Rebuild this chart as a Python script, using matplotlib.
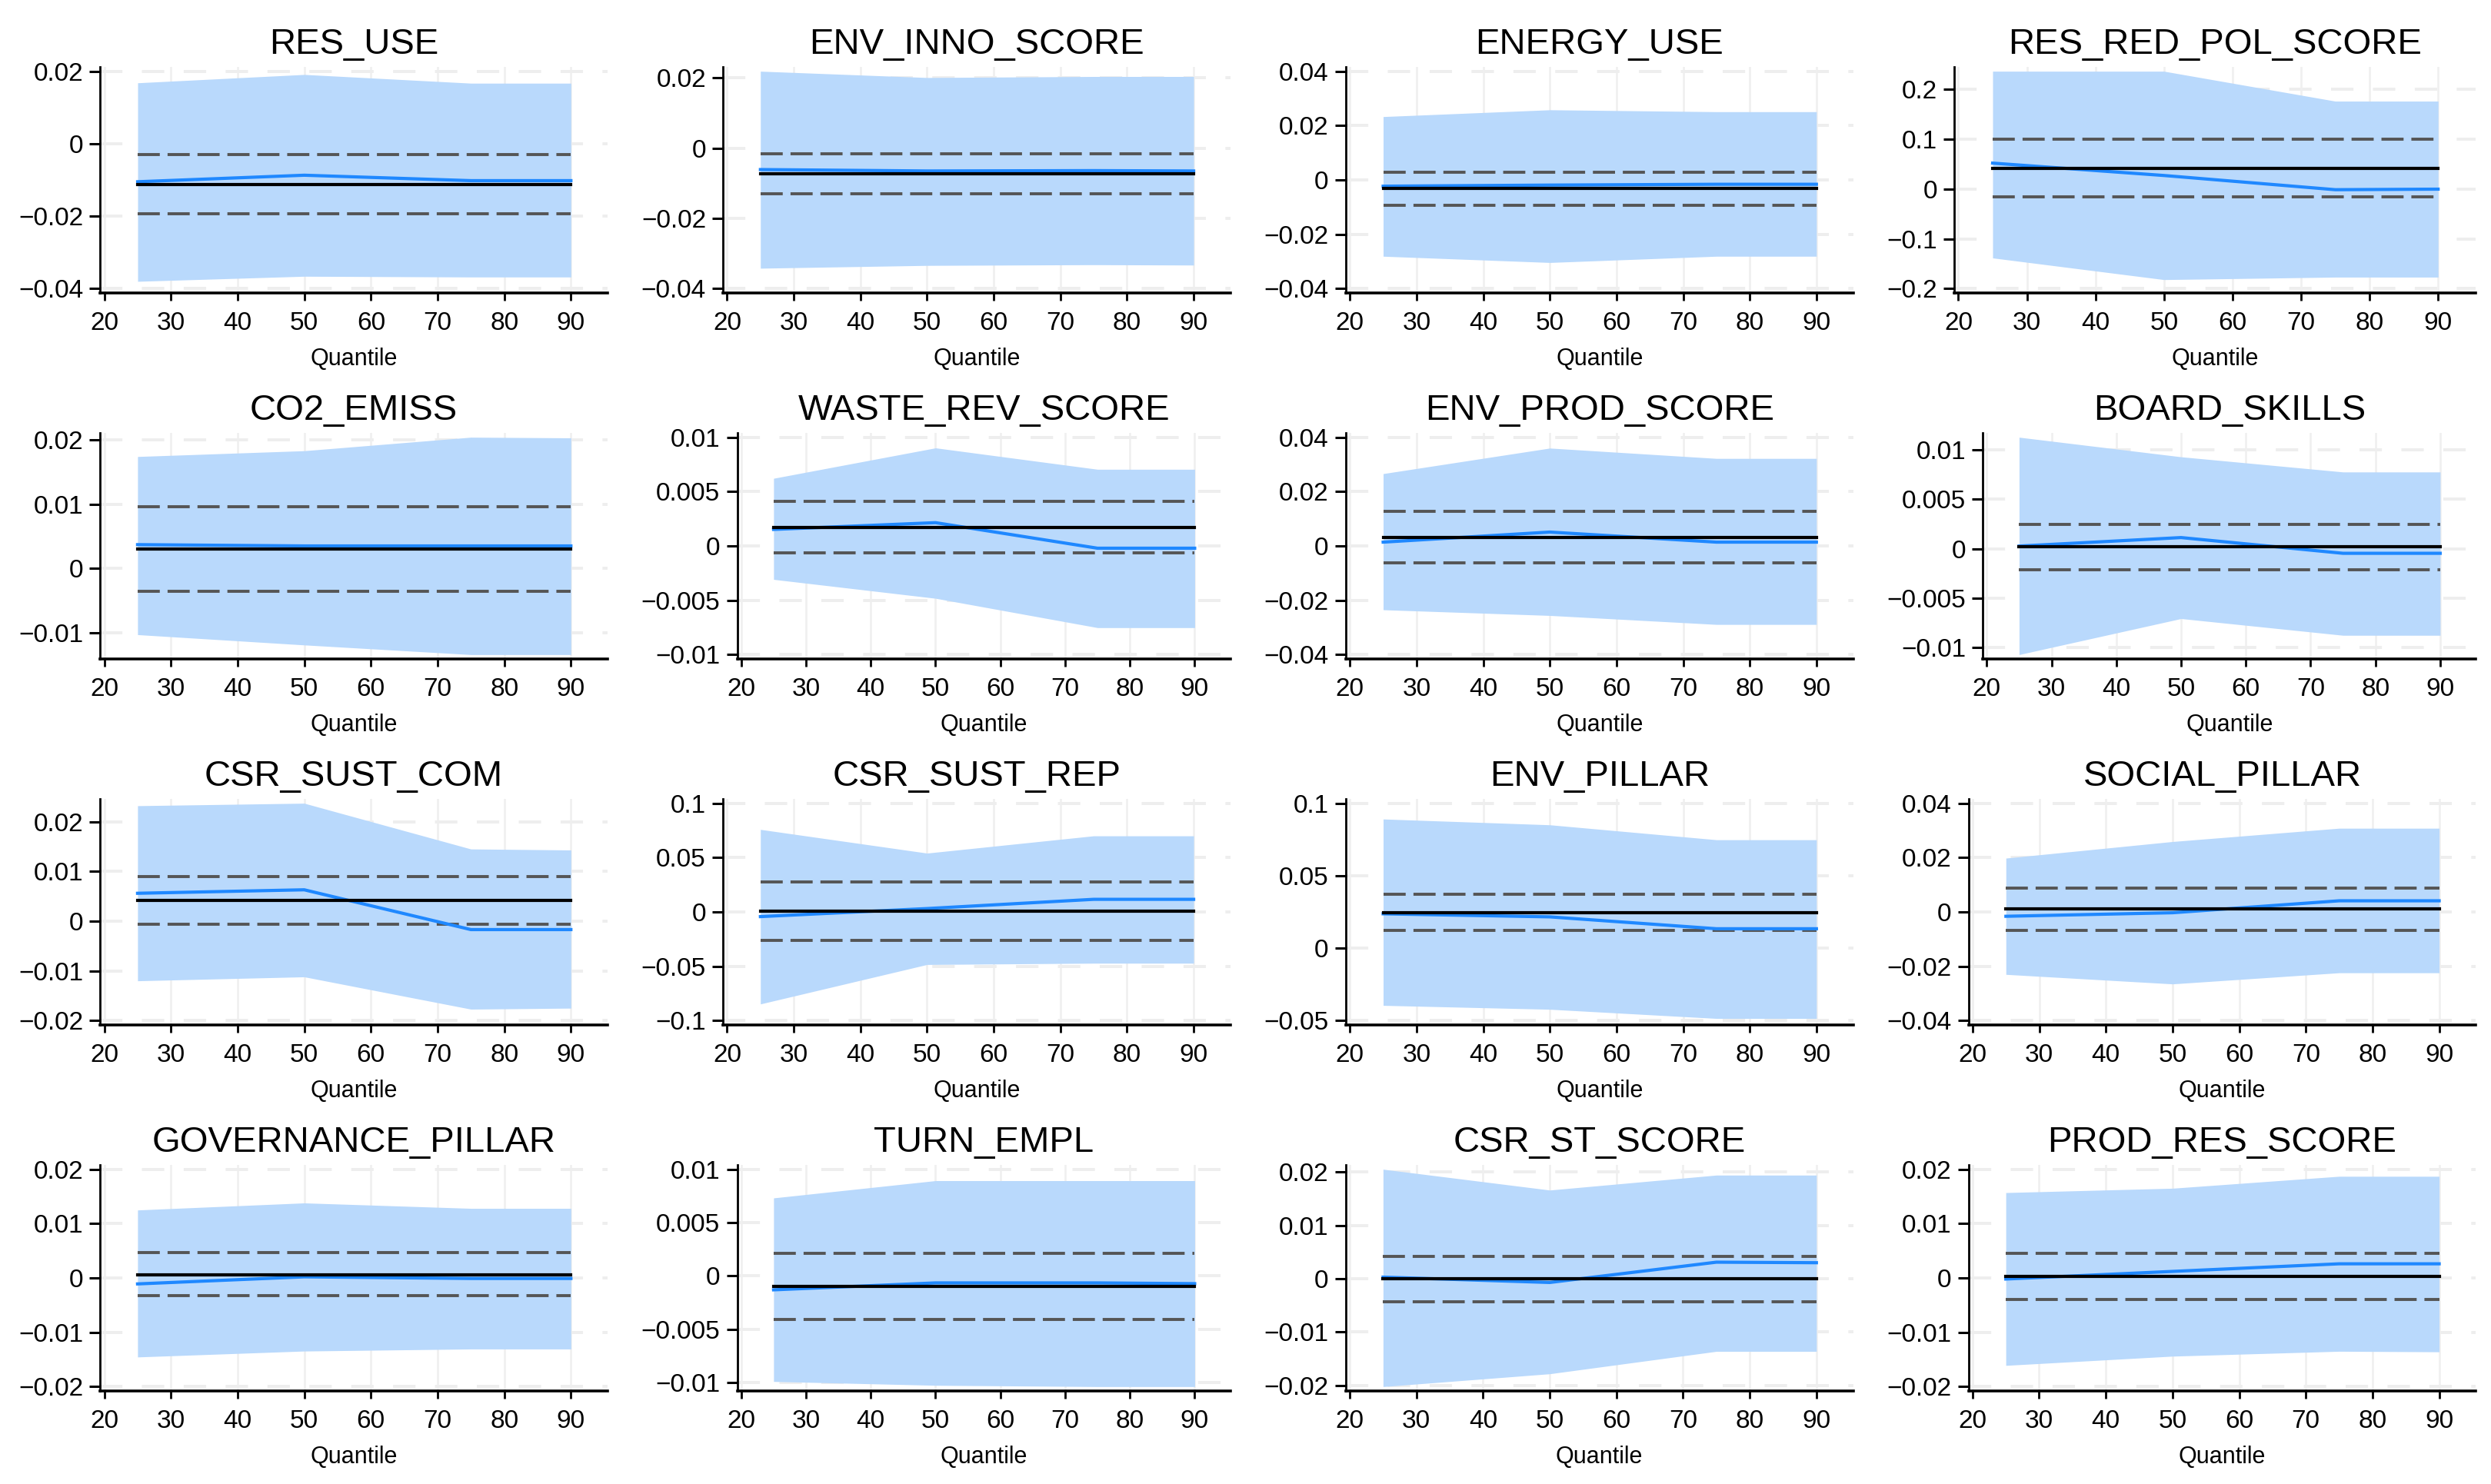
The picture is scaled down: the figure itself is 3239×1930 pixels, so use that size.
import matplotlib.pyplot as plt
from matplotlib.ticker import FuncFormatter

plt.rcParams['font.family'] = ['Liberation Sans', 'DejaVu Sans']

quantiles = [25, 50, 75, 90]

names = ['RES_USE', 'ENV_INNO_SCORE', 'ENERGY_USE', 'RES_RED_POL_SCORE',
         'CO2_EMISS', 'WASTE_REV_SCORE', 'ENV_PROD_SCORE', 'BOARD_SKILLS',
         'CSR_SUST_COM', 'CSR_SUST_REP', 'ENV_PILLAR', 'SOCIAL_PILLAR',
         'GOVERNANCE_PILLAR', 'TURN_EMPL', 'CSR_ST_SCORE', 'PROD_RES_SCORE']

# quantile regression coefficients
qr_coef = [
    [-0.0105, -0.0087, -0.0102, -0.0102],
    [-0.0061, -0.0065, -0.0064, -0.0065],
    [-0.0023, -0.0019, -0.0016, -0.0016],
    [0.0517, 0.0269, -0.0016, -0.0005],
    [0.0037, 0.0035, 0.0035, 0.0035],
    [0.00152, 0.00214, -0.00021, -0.00021],
    [0.0014, 0.0051, 0.0014, 0.0014],
    [0.00026, 0.00112, -0.00047, -0.00047],
    [0.0056, 0.0063, -0.0017, -0.0017],
    [-0.0043, 0.0031, 0.0116, 0.0116],
    [0.0237, 0.0216, 0.0134, 0.0134],
    [-0.0016, -0.0003, 0.0041, 0.0041],
    [-0.0011, 0.0002, -0.0001, -0.0001],
    [-0.0013, -0.00065, -0.00065, -0.00072],
    [0.0003, -0.0007, 0.0031, 0.0030],
    [-0.0002, 0.0012, 0.0026, 0.0026],
]

ci_low = [
    [-0.0380, -0.0366, -0.0368, -0.0368],
    [-0.0342, -0.0334, -0.0332, -0.0333],
    [-0.0281, -0.0304, -0.0281, -0.0281],
    [-0.1385, -0.182, -0.177, -0.177],
    [-0.0103, -0.0119, -0.0134, -0.0134],
    [-0.00308, -0.00482, -0.00752, -0.00752],
    [-0.0235, -0.0256, -0.0289, -0.0289],
    [-0.01071, -0.00707, -0.00876, -0.00876],
    [-0.0120, -0.0112, -0.0177, -0.0175],
    [-0.0847, -0.0484, -0.0472, -0.0472],
    [-0.0395, -0.0422, -0.0485, -0.0485],
    [-0.0230, -0.0265, -0.0224, -0.0224],
    [-0.01455, -0.01346, -0.01308, -0.01308],
    [-0.00989, -0.01025, -0.01037, -0.01037],
    [-0.0202, -0.0178, -0.0136, -0.0136],
    [-0.0161, -0.0144, -0.0135, -0.0136],
]

ci_high = [
    [0.0168, 0.0191, 0.0167, 0.0167],
    [0.0219, 0.0201, 0.0204, 0.0204],
    [0.0233, 0.0258, 0.0251, 0.0251],
    [0.236, 0.236, 0.176, 0.176],
    [0.0174, 0.0183, 0.0204, 0.0203],
    [0.00622, 0.00902, 0.00705, 0.00705],
    [0.0266, 0.0360, 0.0322, 0.0322],
    [0.01126, 0.00928, 0.00775, 0.00775],
    [0.0232, 0.0237, 0.0145, 0.0143],
    [0.0759, 0.0541, 0.0700, 0.0700],
    [0.0891, 0.0851, 0.0748, 0.0748],
    [0.0198, 0.0259, 0.0308, 0.0308],
    [0.0125, 0.0138, 0.0128, 0.0128],
    [0.00731, 0.00893, 0.00893, 0.00893],
    [0.0205, 0.0166, 0.0194, 0.0194],
    [0.0157, 0.0165, 0.0187, 0.0187],
]

# OLS coefficient and its confidence bounds
ols_coef = [-0.0112, -0.0074, -0.0030, 0.0413, 0.0030, 0.00173, 0.0031, 0.00021,
            0.0042, 0.0009, 0.0244, 0.0010, 0.0006, -0.00097, 0.0, 0.0003]
ols_low = [-0.0193, -0.0131, -0.0093, -0.016, -0.0036, -0.00064, -0.0062, -0.00213,
           -0.0006, -0.0263, 0.0123, -0.0067, -0.0033, -0.00408, -0.0043, -0.0040]
ols_high = [-0.0029, -0.0015, 0.0029, 0.0992, 0.0096, 0.00413, 0.0126, 0.00244,
            0.0090, 0.0273, 0.0372, 0.0089, 0.0046, 0.00212, 0.0042, 0.0045]

yticks = [
    [-0.04, -0.02, 0, 0.02],
    [-0.04, -0.02, 0, 0.02],
    [-0.04, -0.02, 0, 0.02, 0.04],
    [-0.2, -0.1, 0, 0.1, 0.2],
    [-0.01, 0, 0.01, 0.02],
    [-0.01, -0.005, 0, 0.005, 0.01],
    [-0.04, -0.02, 0, 0.02, 0.04],
    [-0.01, -0.005, 0, 0.005, 0.01],
    [-0.02, -0.01, 0, 0.01, 0.02],
    [-0.1, -0.05, 0, 0.05, 0.1],
    [-0.05, 0, 0.05, 0.1],
    [-0.04, -0.02, 0, 0.02, 0.04],
    [-0.02, -0.01, 0, 0.01, 0.02],
    [-0.01, -0.005, 0, 0.005, 0.01],
    [-0.02, -0.01, 0, 0.01, 0.02],
    [-0.02, -0.01, 0, 0.01, 0.02],
]
xticks = [20, 30, 40, 50, 60, 70, 80, 90]

W, H = 3239, 1930
fig = plt.figure(figsize=(W / 200, H / 200), dpi=200)

fill_color = '#b9d9fc'
blue = '#1f88ff'
grid_color = '#eeeeee'


def stata_fmt(v, pos):
    return ('%g' % round(v, 6)).replace('-', '\u2212')


axes = []
for i, name in enumerate(names):
    r, c = divmod(i, 4)
    col_x = c * W / 4
    top = 87 + r * 476
    ax = fig.add_axes([(col_x + 130) / W, 1 - (top + 294) / H, 660 / W, 294 / H])
    axes.append(ax)

    for t in yticks[i]:
        ax.axhline(t, color=grid_color, lw=1.4, ls=(0, (7.5, 6.5)), zorder=0)
    for t in xticks:
        ax.axvline(t, color='#efefef', lw=0.9, zorder=0)

    ax.fill_between(quantiles, ci_low[i], ci_high[i], color=fill_color, lw=0, zorder=1)
    ax.plot(quantiles, qr_coef[i], color=blue, lw=1.5, zorder=3)
    ax.plot([quantiles[0], quantiles[-1]], [ols_coef[i]] * 2, color='black', lw=1.5, zorder=4)
    ax.plot([quantiles[0], quantiles[-1]], [ols_low[i]] * 2, color='#555555', lw=1.4,
            ls=(0, (7.4, 2.6)), zorder=2)
    ax.plot([quantiles[0], quantiles[-1]], [ols_high[i]] * 2, color='#555555', lw=1.4,
            ls=(0, (7.4, 2.6)), zorder=2)

    lo = min(min(ci_low[i]), yticks[i][0])
    hi = max(max(ci_high[i]), yticks[i][-1])
    m = 0.02 * (hi - lo)
    ax.set_ylim(lo - m, hi + m)
    ax.set_xlim(19.4, 95.5)
    ax.set_yticks(yticks[i])
    ax.set_xticks(xticks)
    ax.yaxis.set_major_formatter(FuncFormatter(stata_fmt))

    for s in ['top', 'right']:
        ax.spines[s].set_visible(False)
    ax.spines['left'].set_linewidth(1.0)
    ax.spines['bottom'].set_linewidth(1.3)
    ax.tick_params(axis='y', length=5, width=1.1, pad=3, labelsize=12)
    ax.tick_params(axis='x', length=3.5, width=1.0, pad=5, labelsize=12)

    ax.set_title(name, fontsize=17, pad=6)
    ax.set_xlabel('Quantile', fontsize=11, labelpad=6)

# shift each panel so its y tick labels start at the same place in its column
fig.canvas.draw()
renderer = fig.canvas.get_renderer()
for i, ax in enumerate(axes):
    r, c = divmod(i, 4)
    col_x = c * W / 4
    boxes = [t.get_window_extent(renderer) for t in ax.get_yticklabels() if t.get_text()]
    label_x0 = min(b.x0 for b in boxes)
    pos = ax.get_position()
    gap = pos.x0 * W - label_x0
    left = col_x + 24 + gap
    right = col_x + 790
    ax.set_position([left / W, pos.y0, (right - left) / W, pos.height])

fig.savefig('out.png', dpi=200, facecolor='white')
